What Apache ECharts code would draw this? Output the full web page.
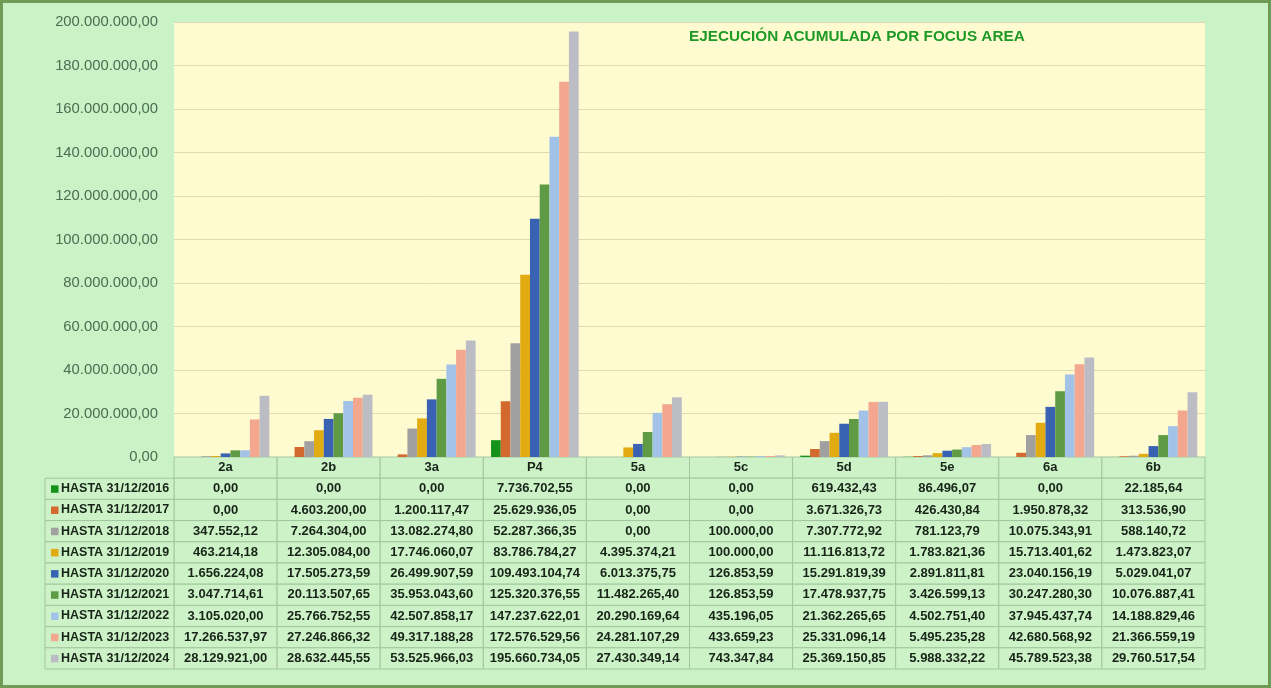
<!DOCTYPE html>
<html>
<head>
<meta charset="utf-8">
<script src="https://cdn.jsdelivr.net/npm/echarts@6/dist/echarts.min.js"></script>
<style>
html,body{margin:0;padding:0;background:#c9f3c6;}
#c{width:1271px;height:688px;}
</style>
</head>
<body>
<div id="c"></div>
<script>
const categories = ['2a','2b','3a','P4','5a','5c','5d','5e','6a','6b'];
const seriesNames = ['HASTA 31/12/2016','HASTA 31/12/2017','HASTA 31/12/2018','HASTA 31/12/2019','HASTA 31/12/2020','HASTA 31/12/2021','HASTA 31/12/2022','HASTA 31/12/2023','HASTA 31/12/2024'];
const v2016 = [0, 0, 0, 7736702.55, 0, 0, 619432.43, 86496.07, 0, 22185.64];
const v2017 = [0, 4603200.00, 1200117.47, 25629936.05, 0, 0, 3671326.73, 426430.84, 1950878.32, 313536.90];
const v2018 = [347552.12, 7264304.00, 13082274.80, 52287366.35, 0, 100000.00, 7307772.92, 781123.79, 10075343.91, 588140.72];
const v2019 = [463214.18, 12305084.00, 17746060.07, 83786784.27, 4395374.21, 100000.00, 11116813.72, 1783821.36, 15713401.62, 1473823.07];
const v2020 = [1656224.08, 17505273.59, 26499907.59, 109493104.74, 6013375.75, 126853.59, 15291819.39, 2891811.81, 23040156.19, 5029041.07];
const v2021 = [3047714.61, 20113507.65, 35953043.60, 125320376.55, 11482265.40, 126853.59, 17478937.75, 3426599.13, 30247280.30, 10076887.41];
const v2022 = [3105020.00, 25766752.55, 42507858.17, 147237622.01, 20290169.64, 435196.05, 21362265.65, 4502751.40, 37945437.74, 14188829.46];
const v2023 = [17266537.97, 27246866.32, 49317188.28, 172576529.56, 24281107.29, 433659.23, 25331096.14, 5495235.28, 42680568.92, 21366559.19];
const v2024 = [28129921.00, 28632445.55, 53525966.03, 195660734.05, 27430349.14, 743347.84, 25369150.85, 5988332.22, 45789523.38, 29760517.54];
const yTicks = [0, 200000000, 20000000]; // min, max, interval
const allValues = [v2016, v2017, v2018, v2019, v2020, v2021, v2022, v2023, v2024];
const colors = ['#14921a','#d2692e','#a0a0a0','#e2ab12','#3a62b2','#5f9b45','#a2c2e8','#f2a78e','#bcbcc4'];

function fmt(v){
  const parts = Math.abs(v).toFixed(2).split('.');
  return parts[0].replace(/\B(?=(\d{3})+(?!\d))/g, '.') + ',' + parts[1];
}

const FONT = '"Liberation Sans", Arial, sans-serif';
const CELL_FILL = '#cdf2c8';
const CELL_STROKE = '#a3c59e';
const TEXT = '#172417';
const LABEL_W = 129;

const barSeries = seriesNames.map((n, i) => ({
  name: n, type: 'bar', xAxisIndex: 0, yAxisIndex: 0,
  data: allValues[i], barGap: '0%', barCategoryGap: '15%',
  itemStyle: {color: colors[i]}
}));

const headerData = categories.map((c, i) => [i, 0]);
const valueData = [];
allValues.forEach((arr, r) => arr.forEach((v, c) => valueData.push([c, r + 1, v])));
const labelData = seriesNames.map((n, r) => [0, r + 1, r]);

function cellRect(p, s) {
  return {type:'rect', shape:{x:p[0]-s[0]/2, y:p[1]-s[1]/2, width:s[0], height:s[1]},
    style:{fill:CELL_FILL, stroke:CELL_STROKE, lineWidth:1}};
}

const chart = echarts.init(document.getElementById('c'), null, {renderer:'canvas'});
chart.setOption({
  animation: false,
  backgroundColor: '#c9f3c6',
  title: {
    text: 'EJECUCIÓN ACUMULADA POR FOCUS AREA', left: 684, top: 24,
    textStyle: {fontFamily: FONT, fontWeight: 'bold', fontSize: 15.3, color: '#1f9a26'}
  },
  grid: [
    {left: 174, right: 66, top: 22, bottom: 231, show: true, backgroundColor: '#fffbd0', borderWidth: 0},
    {left: 174, right: 66, top: 457, bottom: 19}
  ],
  xAxis: [
    {gridIndex: 0, type: 'category', data: categories,
     axisLine: {show: true, lineStyle: {color: '#c8c4a0'}}, axisTick: {show: false}, axisLabel: {show: false}},
    {gridIndex: 1, type: 'category', data: categories, show: false}
  ],
  yAxis: [
    {gridIndex: 0, type: 'value', min: yTicks[0], max: yTicks[1], interval: yTicks[2],
     axisLine: {show: false}, axisTick: {show: false},
     splitLine: {lineStyle: {color: '#e3d9b0', width: 1}},
     axisLabel: {formatter: v => fmt(v), color: '#4f6b52', fontFamily: FONT, fontSize: 14.8, margin: 16}},
    {gridIndex: 1, type: 'category', data: [''].concat(seriesNames), inverse: true, show: false}
  ],
  series: barSeries.concat([
    {
      type: 'custom', xAxisIndex: 1, yAxisIndex: 1, data: headerData, silent: true,
      renderItem: (params, api) => {
        const p = api.coord([api.value(0), api.value(1)]);
        const s = api.size([1, 1]);
        return {type:'group', children:[cellRect(p, s),
          {type:'text', style:{text: categories[api.value(0)], x:p[0], y:p[1], align:'center', verticalAlign:'middle',
            font: 'bold 13px ' + FONT, fill: TEXT}}]};
      }
    },
    {
      type: 'custom', xAxisIndex: 1, yAxisIndex: 1, data: valueData, silent: true,
      renderItem: (params, api) => {
        const p = api.coord([api.value(0), api.value(1)]);
        const s = api.size([1, 1]);
        return {type:'group', children:[cellRect(p, s),
          {type:'text', style:{text: fmt(api.value(2)), x:p[0], y:p[1], align:'center', verticalAlign:'middle',
            font: 'bold 13px ' + FONT, fill: TEXT}}]};
      }
    },
    {
      type: 'custom', xAxisIndex: 1, yAxisIndex: 1, data: labelData, silent: true,
      renderItem: (params, api) => {
        const p = api.coord([0, api.value(1)]);
        const s = api.size([1, 1]);
        const x0 = params.coordSys.x - LABEL_W;
        const y0 = p[1] - s[1]/2;
        const r = api.value(2);
        return {type:'group', children:[
          {type:'rect', shape:{x:x0, y:y0, width:LABEL_W, height:s[1]}, style:{fill:CELL_FILL, stroke:CELL_STROKE, lineWidth:1}},
          {type:'rect', shape:{x:x0+6, y:p[1]-3.5, width:7.5, height:7.5}, style:{fill:colors[r]}},
          {type:'text', style:{text: seriesNames[r], x:x0+16, y:p[1], align:'left', verticalAlign:'middle',
            font: 'bold 12.5px ' + FONT, fill: TEXT}}
        ]};
      }
    }
  ]),
  graphic: [
    {type:'rect', shape:{x:1.5, y:1.5, width:1268, height:685}, style:{fill:'none', stroke:'#6f9c55', lineWidth:3}, silent:true}
  ]
});
</script>
</body>
</html>
